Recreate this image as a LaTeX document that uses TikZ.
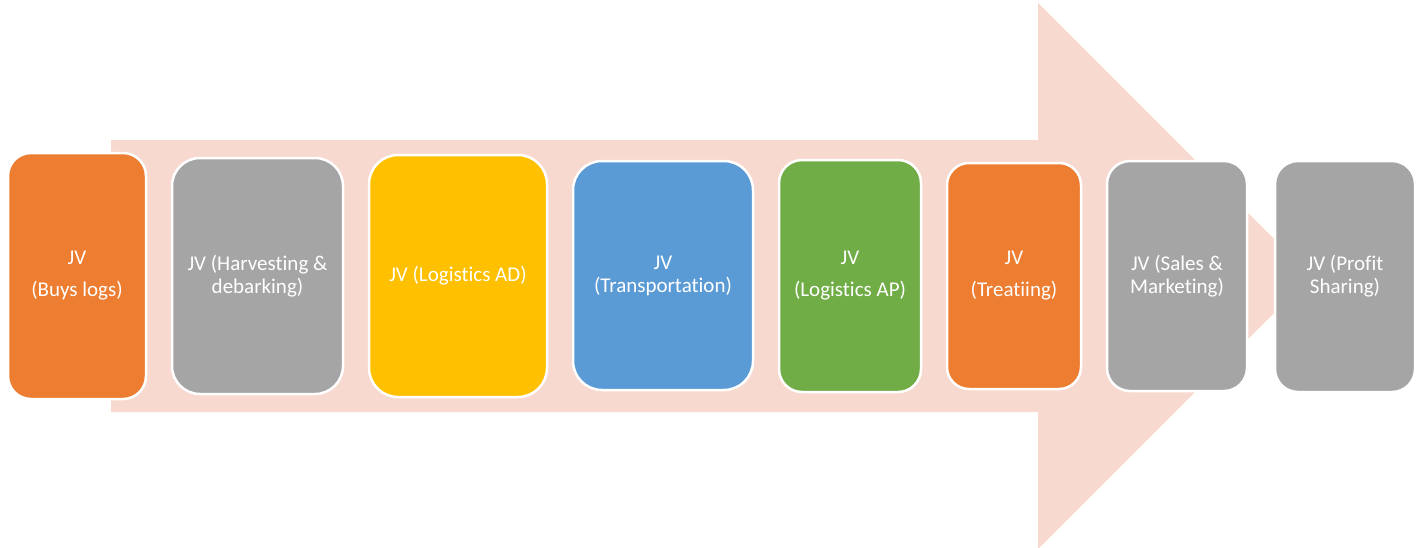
\documentclass[tikz,border=0pt]{standalone}
\usepackage{fontspec}
\setmainfont{Carlito}[Ligatures={NoCommon}]
\definecolor{jvorange}{HTML}{ED7D31}
\definecolor{jvgray}{HTML}{A5A5A5}
\definecolor{jvyellow}{HTML}{FFC000}
\definecolor{jvblue}{HTML}{5B9BD5}
\definecolor{jvgreen}{HTML}{70AD47}
\definecolor{arrowpink}{HTML}{F8D9CF}
\begin{document}
\begin{tikzpicture}[x=1pt,y=-1pt,
  box/.style={draw=white, line width=2.5pt, text=white, align=center, inner sep=0pt,
    font=\fontsize{21}{23}\selectfont}]
\useasboundingbox (0,0) rectangle (1416,547);
% big background arrow
\fill[arrowpink] (111,140) -- (1038,140) -- (1038,3) -- (1311,276) -- (1038,549)
  -- (1038,412) -- (111,412) -- cycle;
% boxes
\node[box, fill=jvorange, minimum width=138pt, minimum height=246pt, rounded corners=23pt]
  (b1) at (77,276) {JV\\[9pt](Buys logs)};
\node[box, fill=jvgray, minimum width=171pt, minimum height=236pt, rounded corners=28pt]
  (b2) at (257.5,276) {JV (Harvesting \&\\debarking)};
\node[box, fill=jvyellow, minimum width=178pt, minimum height=242pt, rounded corners=29pt]
  (b3) at (458,276) {JV (Logistics AD)};
\node[box, fill=jvblue, minimum width=180pt, minimum height=229pt, rounded corners=29pt]
  (b4) at (663,275.5) {JV\\(Transportation)};
\node[box, fill=jvgreen, minimum width=142pt, minimum height=232pt, rounded corners=23pt]
  (b5) at (850,276) {JV\\[9pt](Logistics AP)};
\node[box, fill=jvorange, minimum width=134pt, minimum height=226pt, rounded corners=22pt]
  (b6) at (1014,276) {JV\\[9pt](Treatiing)};
\node[box, fill=jvgray, minimum width=140pt, minimum height=230pt, rounded corners=23pt]
  (b7) at (1177,276) {JV (Sales \&\\Marketing)};
\node[box, fill=jvgray, minimum width=140pt, minimum height=231pt, rounded corners=23pt]
  (b8) at (1345,276.5) {JV (Profit\\Sharing)};
\end{tikzpicture}
\end{document}
